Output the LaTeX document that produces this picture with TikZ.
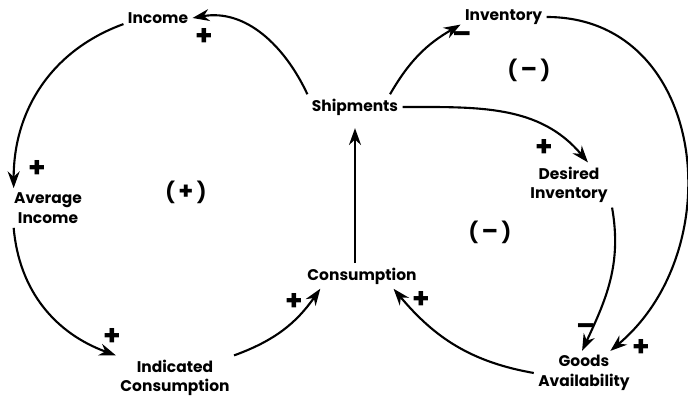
\documentclass[tikz,border=0pt]{standalone}
\usepackage{fontspec}
\setmainfont{Poppins}
\usetikzlibrary{arrows.meta}

\begin{document}
\begin{tikzpicture}[font=\fontsize{11}{14}\selectfont\bfseries,
    var/.style={align=center, inner sep=3pt},
    link/.style={-{Stealth[length=4.2mm, width=3mm]}, line width=1.5pt},
    loop/.style={font=\Large\bfseries},
    sign/.style={font=\fontsize{20}{20}\selectfont\bfseries, inner sep=0pt}]
  \useasboundingbox (0,0) rectangle (17.2,9.9);
  \node[var] (income) at (3.95,9.45) {Income};
  \node[var] (shipments) at (8.875,7.225) {Shipments};
  \node[var] (inventory) at (12.59,9.475) {Inventory};
  \node[var] (desired) at (14.225,5.275) {Desired\\Inventory};
  \node[var] (avgincome) at (1.2,4.7) {Average\\Income};
  \node[var] (consumption) at (9.05,3.0) {Consumption};
  \node[var] (indicated) at (4.375,0.45) {Indicated\\Consumption};
  \node[var] (goods) at (14.6,0.575) {Goods\\Availability};
  % loop polarities
  \node[loop] (posloop) at (4.65,5.1) {(\,{\fontsize{17}{17}\selectfont +}\,)};
  \node[loop] (negtop) at (13.225,8.15) {(\,{\fontsize{17}{17}\selectfont –}\,)};
  \node[loop] (negmid) at (12.25,4.1) {(\,{\fontsize{17}{17}\selectfont –}\,)};
  % income loop
  \draw[link] (shipments.north west) to[out=115, in=10] (income.east);
  \draw[link] (income.190) to[out=200, in=90] (avgincome.150);
  \draw[link] (avgincome.210) to[out=-85, in=160] (indicated.north west);
  \draw[link] (indicated.north east) to[out=20, in=235] (consumption.197);
  \draw[link, shorten >=6pt] (consumption.north -| shipments) -- (shipments.south);
  % inventory loops
  \draw[link] (shipments.20) to[out=60, in=210] (inventory.190);
  \draw[link] (shipments.east) to[out=0, in=130] (desired.50);
  \draw[link] (inventory.east) to[out=0, in=40, looseness=1.2] (goods.40);
  \draw[link] (desired.south east) to[out=-80, in=65] (goods.95);
  \draw[link] (goods.west) to[out=170, in=-50] (consumption.338);
  % link polarities
  \node[sign] (p1) at (5.1,8.975) {+};
  \node[sign] (p2) at (0.925,5.675) {+};
  \node[sign] (p3) at (2.8,1.475) {+};
  \node[sign] (p4) at (7.35,2.35) {+};
  \node[sign] (p5) at (10.53,2.4) {+};
  \node[sign] (p6) at (13.6,6.2) {+};
  \node[sign] (p7) at (16.03,1.2) {+};
  \node[sign] (m1) at (11.55,8.95) {–};
  \node[sign] (m2) at (14.65,1.65) {–};
\end{tikzpicture}
\end{document}
